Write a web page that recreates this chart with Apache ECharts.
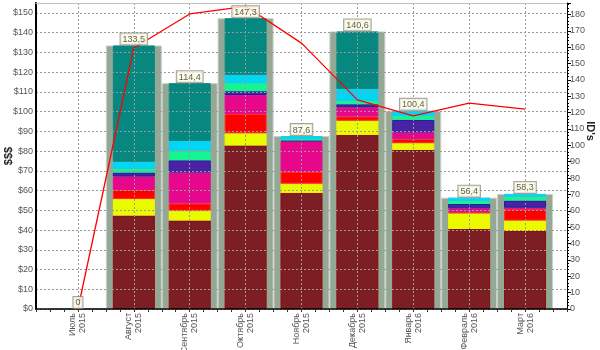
<!DOCTYPE html>
<html>
<head>
<meta charset="utf-8">
<script src="https://cdn.jsdelivr.net/npm/echarts@6/dist/echarts.min.js"></script>
<style>
html,body{margin:0;padding:0;background:#fff;}
#chart{width:600px;height:350px;}
</style>
</head>
<body>
<div id="chart"></div>
<script>
const months = ['Июль','Август','Сентябрь','Октябрь','Ноябрь','Декабрь','Январь','Февраль','Март'];
const years  = ['2015','2015','2015','2015','2015','2015','2016','2016','2016'];
const totals = [0, 133.5, 114.4, 147.3, 87.6, 140.6, 100.4, 56.4, 58.3];
const darkRed = [0, 47.3, 44.8, 82.8, 58.8, 88.2, 80.6, 40.5, 39.5];
const yellow  = [0, 8.4, 5.0, 6.2, 4.7, 7.2, 3.4, 8.0, 5.3];
const red     = [0, 4.6, 3.7, 9.8, 5.9, 2.1, 2.0, 0.5, 5.7];
const magenta = [0, 6.8, 15.6, 9.6, 15.5, 4.7, 3.4, 2.0, 0.8];
const purple  = [0, 2.0, 6.2, 1.9, 0.5, 1.5, 6.4, 2.2, 3.6];
const green   = [0, 1.8, 4.9, 4.1, 0.6, 1.7, 2.0, 1.5, 1.9];
const cyan    = [0, 3.7, 4.9, 4.2, 1.6, 6.1, 2.6, 1.7, 1.5];
const teal    = [0, 58.9, 29.3, 28.7, 0, 29.1, 0, 0, 0];
const ids     = [0, 159.5, 180.3, 185.0, 162.5, 127.8, 118.0, 125.8, 122.1];

const font = 'Liberation Sans';
const Y_MAX = 155;

const stackDefs = [
  {name: 'A', data: darkRed, color: '#7c1e24', border: '#8e0a0a'},
  {name: 'B', data: yellow,  color: '#eafb00', border: '#f4f400'},
  {name: 'C', data: red,     color: '#ff0000', border: '#ff2a2a'},
  {name: 'D', data: magenta, color: '#e6078c', border: '#e0108a'},
  {name: 'E', data: purple,  color: '#4b22a6', border: '#1c1ca8'},
  {name: 'F', data: green,   color: '#14f690', border: '#20f090'},
  {name: 'G', data: cyan,    color: '#00d6f6', border: '#10d0f0'},
  {name: 'H', data: teal,    color: '#06877f', border: '#0a8a80'}
];

const series = [{
  type: 'bar',
  xAxisIndex: 3, yAxisIndex: 2,
  barWidth: 56,
  data: totals,
  itemStyle: {color: '#95a896', borderColor: '#c9d2c9', borderWidth: 1},
  z: 1
}];
stackDefs.forEach(s => series.push({
  type: 'bar', name: s.name, stack: 'total',
  xAxisIndex: 2, yAxisIndex: 2, barWidth: 42,
  data: s.data.map(v => v === 0 ? {value: 0, itemStyle: {borderWidth: 0, opacity: 0}} : v),
  itemStyle: {color: s.color, borderColor: s.border, borderWidth: 1},
  z: 2
}));
series.push({
  type: 'line', xAxisIndex: 0, yAxisIndex: 1,
  data: ids.map((v, i) => [i, v]),
  showSymbol: false, symbol: 'none',
  lineStyle: {color: '#ff0000', width: 1.3},
  z: 20
});
series.push({
  type: 'scatter', xAxisIndex: 3, yAxisIndex: 2,
  data: totals, symbolSize: 0, silent: true,
  label: {
    show: true, position: 'top', distance: 1,
    formatter: p => String(p.value).replace('.', ','),
    fontFamily: font, fontSize: 9, color: '#333',
    backgroundColor: '#fbfbe2', borderColor: '#8a8a8a', borderWidth: 1,
    padding: [1, 2, 0, 2], lineHeight: 10
  },
  z: 25
});

const chart = echarts.init(document.getElementById('chart'), null, {renderer: 'canvas'});
chart.setOption({
  animation: false,
  backgroundColor: '#ffffff',
  grid: [
    {left: 36, right: 33, top: 3, bottom: 41, outerBoundsMode: 'none', containLabel: false},
    {left: 50, right: 47, top: 3, bottom: 41, outerBoundsMode: 'none', containLabel: false}
  ],
  xAxis: [{
    gridIndex: 0, z: 10,
    type: 'value', min: -0.75, max: 8.75, minInterval: 1, maxInterval: 1,
    axisLine: {onZero: false, lineStyle: {color: '#000', width: 1.5}},
    axisTick: {show: true, length: 3, lineStyle: {color: '#333'}},
    minorTick: {show: true, splitNumber: 4, length: 3, lineStyle: {color: '#333'}},
    splitLine: {show: true, lineStyle: {color: '#9a9a9a', type: [2, 2]}},
    axisLabel: {
      rotate: 90, fontFamily: font, fontSize: 9, color: '#555', margin: 4, lineHeight: 10,
      showMinLabel: false, showMaxLabel: false,
      formatter: v => (Number.isInteger(v) && v >= 0 && v < months.length) ? months[v] + '\n' + years[v] : ''
    }
  }, {
    gridIndex: 0, z: 10,
    type: 'value', min: -0.75, max: 8.75, position: 'top',
    axisLine: {show: true, onZero: false, lineStyle: {color: '#c0c0c0', width: 1}},
    axisTick: {show: false}, axisLabel: {show: false}, splitLine: {show: false}
  }, {
    gridIndex: 1, type: 'category', data: months, show: false
  }, {
    gridIndex: 1, type: 'category', data: months, show: false
  }],
  yAxis: [{
    gridIndex: 0, z: 10,
    type: 'value', min: 0, max: Y_MAX, interval: 10, position: 'left',
    name: '$$$', nameLocation: 'middle', nameGap: 22, nameMoveOverlap: false,
    nameTextStyle: {fontFamily: font, fontSize: 11, fontWeight: 'bold', color: '#222'},
    axisLine: {show: true, onZero: false, lineStyle: {color: '#000', width: 2}},
    axisTick: {show: false},
    axisLabel: {showMaxLabel: false, fontFamily: font, fontSize: 9, color: '#555', margin: 3,
      formatter: v => '$' + v},
    splitLine: {show: true, lineStyle: {color: '#9a9a9a', type: [2, 2]}}
  }, {
    gridIndex: 0, z: 10,
    type: 'value', min: 0, max: 187, interval: 10, position: 'right',
    name: "ID's", nameLocation: 'middle', nameGap: 18, nameRotate: -90, nameMoveOverlap: false,
    nameTextStyle: {fontFamily: font, fontSize: 11, fontWeight: 'bold', color: '#222', padding: [0, 50, 0, 0]},
    axisLine: {show: true, onZero: false, lineStyle: {color: '#000', width: 1}},
    axisTick: {show: true, length: 4, lineStyle: {color: '#000'}},
    minorTick: {show: true, splitNumber: 5, length: 2, lineStyle: {color: '#000'}},
    axisLabel: {showMaxLabel: false, fontFamily: font, fontSize: 9, color: '#555', margin: 3},
    splitLine: {show: false}
  }, {
    gridIndex: 1,
    type: 'value', min: 0, max: Y_MAX, show: false
  }],
  series: series
});
</script>
</body>
</html>
